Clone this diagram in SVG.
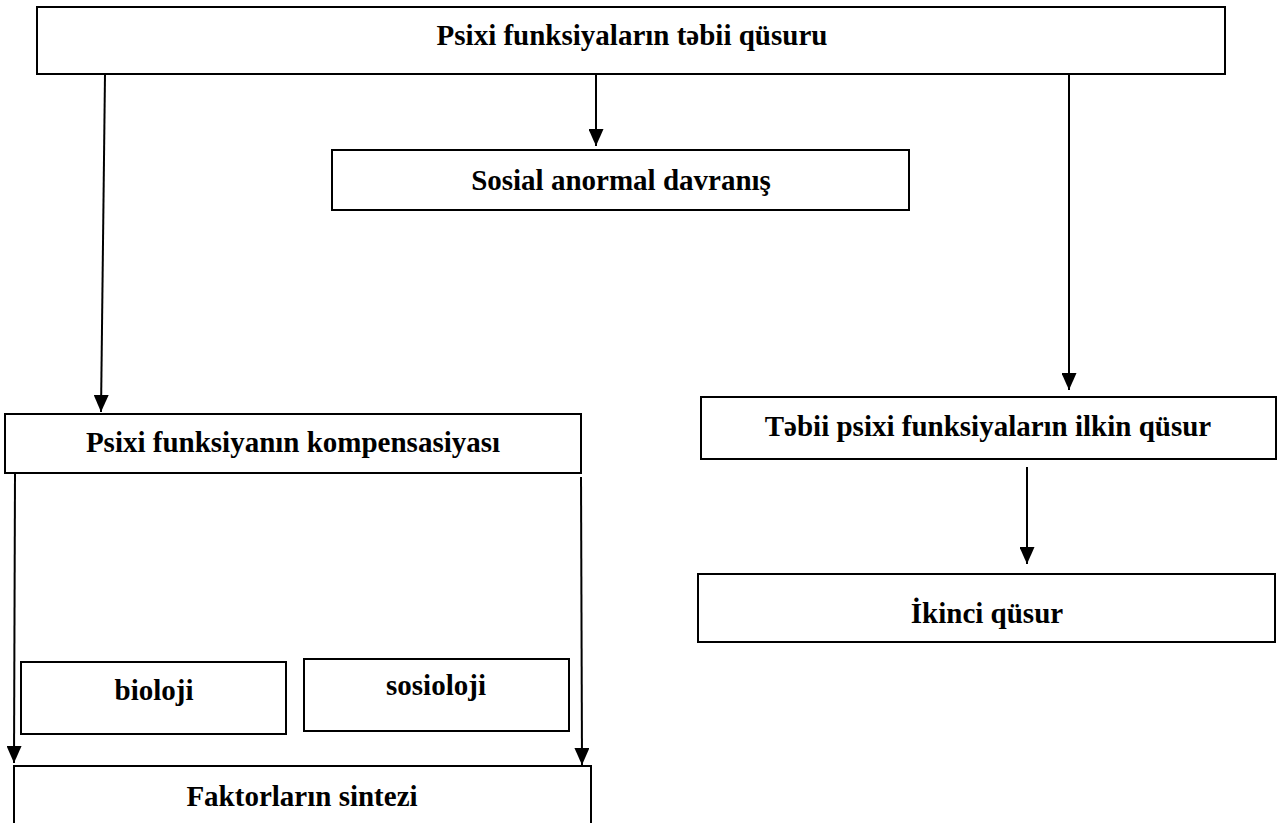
<svg xmlns="http://www.w3.org/2000/svg" width="1277" height="823" viewBox="0 0 1277 823">
<style>
.box{fill:#fff;stroke:#000;stroke-width:2}
.lbl{font-family:"Liberation Serif","Times New Roman",serif;font-weight:bold;font-size:29px;fill:#000;text-anchor:middle}
.con{stroke:#000;stroke-width:2;fill:none;marker-end:url(#arr)}
</style>
<defs>
<marker id="arr" markerUnits="userSpaceOnUse" markerWidth="17" markerHeight="15" refX="17" refY="7.5" orient="auto">
<path d="M0,0 L17,7.5 L0,15 Z" fill="#000"/>
</marker>
</defs>
<rect width="1277" height="823" fill="#fff"/>
<g id="connectors">
<line class="con" x1="105" y1="74" x2="101" y2="412"/>
<line class="con" x1="596" y1="74" x2="596" y2="146"/>
<line class="con" x1="1069" y1="74" x2="1069" y2="390"/>
<line class="con" x1="1027" y1="467" x2="1027" y2="564"/>
<line class="con" x1="15" y1="474" x2="14" y2="763"/>
<line class="con" x1="581" y1="477" x2="582" y2="765"/>
</g>
<g id="n-top">
<rect class="box" x="37" y="7" width="1188" height="67"/>
<text class="lbl" x="632" y="45">Psixi funksiyaların təbii qüsuru</text>
</g>
<g id="n-sosial">
<rect class="box" x="332" y="150" width="577" height="60"/>
<text class="lbl" x="621" y="190">Sosial anormal davranış</text>
</g>
<g id="n-komp">
<rect class="box" x="5" y="414" width="576" height="59"/>
<text class="lbl" x="293" y="452">Psixi funksiyanın kompensasiyası</text>
</g>
<g id="n-tebii">
<rect class="box" x="701" y="397" width="575" height="62"/>
<text class="lbl" x="988" y="436">Təbii psixi funksiyaların ilkin qüsur</text>
</g>
<g id="n-ikinci">
<rect class="box" x="698" y="574" width="577" height="68"/>
<text class="lbl" x="987" y="623">İkinci qüsur</text>
</g>
<g id="n-bioloji">
<rect class="box" x="21" y="662" width="265" height="72"/>
<text class="lbl" x="154" y="700">bioloji</text>
</g>
<g id="n-sosioloji">
<rect class="box" x="304" y="659" width="265" height="72"/>
<text class="lbl" x="436" y="695">sosioloji</text>
</g>
<g id="n-faktor">
<rect class="box" x="14" y="766" width="577" height="70"/>
<text class="lbl" x="302" y="806">Faktorların sintezi</text>
</g>
</svg>
